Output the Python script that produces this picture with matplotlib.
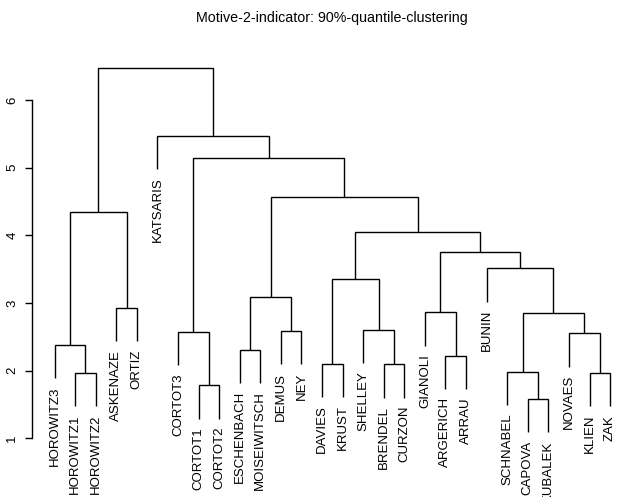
import matplotlib
matplotlib.use("Agg")
import matplotlib.pyplot as plt
import numpy as np

plt.rcParams['font.family'] = ['Liberation Sans', 'DejaVu Sans']

# leaves in plotted order
labels = ["HOROWITZ3", "HOROWITZ1", "HOROWITZ2", "ASKENAZE", "ORTIZ",
          "KATSARIS", "CORTOT3", "CORTOT1", "CORTOT2", "ESCHENBACH",
          "MOISEIWITSCH", "DEMUS", "NEY", "DAVIES", "KRUST", "SHELLEY",
          "BRENDEL", "CURZON", "GIANOLI", "ARGERICH", "ARRAU", "BUNIN",
          "SCHNABEL", "CAPOVA", "KUBALEK", "NOVAES", "KLIEN", "ZAK"]

# hclust-style merge table: negative = leaf (1-based), positive = earlier step
merge = [(-24, -25), (-8, -9), (-2, -3), (-27, -28), (-23, 1),
         (-17, -18), (-14, -15), (-20, -21), (-10, -11), (-1, 3),
         (-26, 4), (-7, 2), (-12, -13), (-16, 6), (5, 11),
         (-19, 8), (-4, -5), (9, 13), (7, 14), (-22, 15),
         (16, 20), (19, 21), (10, 17), (18, 22), (12, 24),
         (-6, 25), (23, 26)]
heights = [1.58, 1.78, 1.96, 1.96, 1.98,
           2.09, 2.10, 2.22, 2.31, 2.38,
           2.55, 2.57, 2.58, 2.60, 2.85,
           2.86, 2.92, 3.09, 3.35, 3.51,
           3.75, 4.05, 4.34, 4.57, 5.14,
           5.47, 6.48]

yticks = [1, 2, 3, 4, 5, 6]
title = "Motive-2-indicator: 90%-quantile-clustering"

W, H = 617, 497
fig = plt.figure(figsize=(W / 100, H / 100), dpi=100)
# plot region (pixels) as in the R device
left, right, top, bottom = 32.3, 632.3, 53.3, 445.0
ax = fig.add_axes([left / W, 1 - bottom / H, (right - left) / W, (bottom - top) / H])

n = len(labels)
hang = 0.1 * (max(heights) - min(heights))
node_x = {}
lw = 1.0
leaf_ends = {}

for i, ((a, b), h) in enumerate(zip(merge, heights), start=1):
    xs, ys = [], []
    for c in (a, b):
        if c < 0:
            x = -c
            y = h - hang
            leaf_ends[-c] = y
        else:
            x = node_x[c]
            y = heights[c - 1]
        xs.append(x)
        ys.append(y)
    ax.plot([xs[0], xs[0], xs[1], xs[1]], [ys[0], h, h, ys[1]],
            color='black', lw=lw, solid_capstyle='butt', solid_joinstyle='miter')
    node_x[i] = (xs[0] + xs[1]) / 2

for k, lab in enumerate(labels, start=1):
    ax.annotate(lab, xy=(k, leaf_ends[k]), xytext=(0, -6), textcoords='offset points',
                rotation=90, ha='center', va='top', fontsize=9.5, annotation_clip=False)

ax.set_xlim(1 - 0.04 * (n - 1), n + 0.04 * (n - 1))
ax.set_ylim(0.9, 6.69)
for s in ['top', 'right', 'bottom']:
    ax.spines[s].set_visible(False)
ax.spines['left'].set_bounds(1, 6)
ax.spines['left'].set_linewidth(lw)
ax.set_xticks([])
ax.set_yticks(yticks)
ax.set_yticklabels([str(t) for t in yticks], rotation=90, va='center')
ax.tick_params(axis='y', length=5, width=lw, pad=5, labelsize=9.5)
ax.patch.set_visible(False)

fig.text(332 / W, 1 - 18 / H, title, ha='center', va='center', fontsize=10.3)

fig.savefig("out.png", dpi=100)
